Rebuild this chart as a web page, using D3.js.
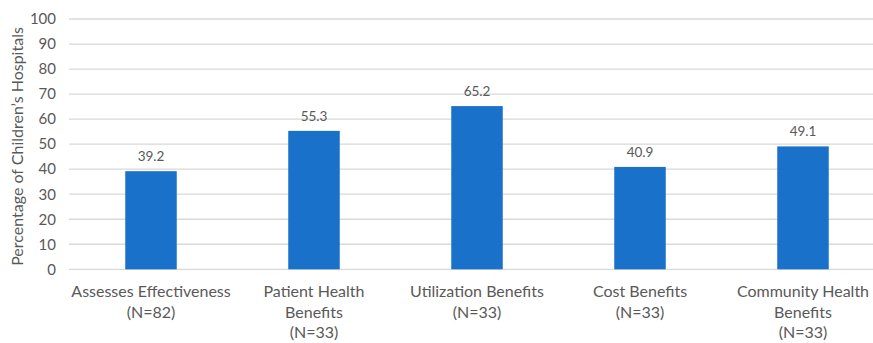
<!DOCTYPE html>
<html>
<head>
<meta charset="utf-8">
<script src="https://cdn.jsdelivr.net/npm/d3@7/dist/d3.min.js"></script>
<style>
  html, body { margin: 0; padding: 0; background: #fff; }
  svg { display: block; }
  text { font-family: Lato, "Open Sans", sans-serif; fill: #595959; }
</style>
</head>
<body>
<svg id="chart" width="873" height="343"></svg>
<script>
// Share of children's hospitals reporting each kind of evaluation/benefit
const categories = [
  ["Assesses Effectiveness", "(N=82)"],
  ["Patient Health", "Benefits", "(N=33)"],
  ["Utilization Benefits", "(N=33)"],
  ["Cost Benefits", "(N=33)"],
  ["Community Health", "Benefits", "(N=33)"]
];
const values = [39.2, 55.3, 65.2, 40.9, 49.1];
const yTicks = [0, 10, 20, 30, 40, 50, 60, 70, 80, 90, 100];
const yTitle = "Percentage of Children\u2019s  Hospitals";

const svg = d3.select("#chart");
const W = 873, H = 343;
const plotLeft = 69, plotTop = 19, plotBottom = 269.3;

// category bands run slightly past the right edge of the frame
const x = d3.scaleBand()
  .domain(d3.range(categories.length))
  .range([69.5, 884.5])
  .paddingInner(0.684)
  .paddingOuter(0.342);

const y = d3.scaleLinear()
  .domain([0, 100])
  .range([plotBottom, plotTop]);

// horizontal gridlines
svg.append("g")
  .selectAll("line")
  .data(yTicks)
  .join("line")
  .attr("x1", plotLeft)
  .attr("x2", W)
  .attr("y1", d => y(d))
  .attr("y2", d => y(d))
  .attr("stroke", "#d9d9d9")
  .attr("stroke-width", 1.3);

// y axis labels
const yAxis = d3.axisLeft(y).tickValues(yTicks).tickSize(0).tickPadding(13);
const gy = svg.append("g")
  .attr("transform", `translate(${plotLeft},0)`)
  .call(yAxis);
gy.select(".domain").remove();
gy.selectAll("text")
  .style("font-family", "Lato, 'Open Sans', sans-serif")
  .style("font-size", "15px")
  .attr("fill", "#595959");

// y axis title
svg.append("text")
  .attr("transform", `translate(23,146.5) rotate(-90)`)
  .attr("text-anchor", "middle")
  .style("font-size", "16px")
  .text(yTitle);

// bars
svg.append("g")
  .selectAll("rect")
  .data(values)
  .join("rect")
  .attr("x", (d, i) => x(i))
  .attr("width", x.bandwidth())
  .attr("y", d => y(d))
  .attr("height", d => y(0) - y(d))
  .attr("fill", "#1a71c9");

// value labels
svg.append("g")
  .selectAll("text")
  .data(values)
  .join("text")
  .attr("x", (d, i) => x(i) + x.bandwidth() / 2)
  .attr("y", d => y(d) - 10)
  .attr("text-anchor", "middle")
  .style("font-size", "13.5px")
  .attr("fill", "#404040")
  .text(d => d.toFixed(1));

// category labels (multi-line)
const cat = svg.append("g")
  .selectAll("text")
  .data(categories)
  .join("text")
  .attr("text-anchor", "middle")
  .style("font-size", "16px");
cat.each(function(lines, i) {
  const cx = x(i) + x.bandwidth() / 2;
  d3.select(this).selectAll("tspan")
    .data(lines)
    .join("tspan")
    .attr("x", cx)
    .attr("y", (d, j) => 297 + j * 20.7)
    .text(d => d);
});
</script>
</body>
</html>
